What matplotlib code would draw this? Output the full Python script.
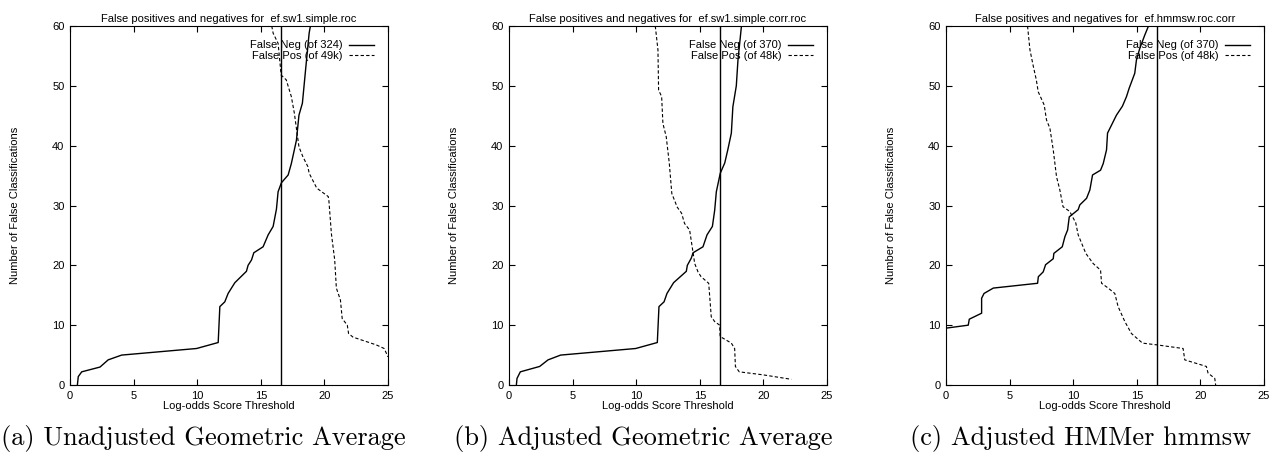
import matplotlib
matplotlib.use("Agg")
import matplotlib.pyplot as plt

plt.rcParams['font.family'] = ['Liberation Sans', 'DejaVu Sans']

threshold = 16.6

# panel (a) ef.sw1.simple.roc
a_fn_x = [0.58, 0.65, 0.92, 2.36, 3.0, 4.06, 9.95, 11.65, 11.78, 12.17, 12.43, 12.96, 13.87, 14.0,
          14.27, 14.45, 15.18, 15.58, 15.97, 16.23, 16.36, 16.62, 17.15, 17.4, 17.8, 18.0, 18.27,
          18.53, 18.8, 18.9]
a_fn_y = [0, 1.4, 2.2, 3.0, 4.2, 5.0, 6.1, 7.1, 13.1, 13.9, 15.3, 17.1, 19.0, 20.0,
          20.9, 22.1, 23.1, 25.1, 26.5, 29.4, 32.3, 33.8, 35.1, 37.0, 40.9, 45.1, 47.1,
          52.9, 58.8, 60.0]
a_fp_x = [15.86, 15.97, 16.36, 16.6, 17.0, 17.4, 17.64, 17.85, 18.0, 18.3, 18.7, 18.8, 19.4,
          20.3, 20.35, 20.55, 20.81, 20.94, 21.26, 21.4, 21.8, 21.9, 22.25, 24.08, 24.7, 25.0]
a_fp_y = [60.0, 58.8, 57.1, 51.8, 51.0, 48.2, 45.4, 42.1, 39.8, 38.2, 36.5, 35.4, 32.9,
          31.5, 30.9, 25.3, 20.9, 16.2, 14.2, 11.1, 10.0, 8.6, 8.0, 6.7, 6.1, 4.7]

# panel (b) ef.sw1.simple.corr.roc
b_fn_x = [0.58, 0.63, 0.89, 2.41, 3.07, 4.06, 9.96, 11.66, 11.79, 12.19, 12.42, 12.94, 13.94,
          14.02, 14.33, 14.47, 15.25, 15.57, 15.99, 16.17, 16.3, 16.61, 16.96, 17.2, 17.48, 17.6,
          17.87, 18.0, 18.27]
b_fn_y = [0, 1.1, 2.2, 3.1, 4.2, 5.0, 6.1, 7.1, 13.1, 13.9, 15.3, 17.1, 19.0,
          20.0, 21.2, 22.1, 23.1, 25.1, 26.5, 29.2, 32.3, 35.4, 37.1, 39.3, 42.1, 46.5,
          50.0, 54.3, 59.9]
b_fp_x = [11.5, 11.71, 11.76, 12.0, 12.1, 12.36, 12.6, 12.8, 13.1, 13.2, 13.57, 13.8, 14.2,
          14.4, 14.6, 14.86, 15.1, 15.7, 15.9, 16.17, 16.56, 16.6, 17.48, 17.74, 17.8, 18.1,
          19.97, 22.2]
b_fp_y = [60.0, 56.0, 49.3, 48.2, 43.7, 41.5, 37.1, 32.0, 30.4, 29.8, 28.7, 27.0, 25.9,
          23.1, 20.3, 18.9, 18.1, 17.0, 11.4, 10.6, 10.0, 8.1, 7.0, 6.1, 3.1, 2.2,
          1.7, 0.95]

# panel (c) ef.hmmsw.roc.corr
c_fn_x = [0, 1.75, 1.83, 2.8, 2.8, 2.99, 3.72, 7.2, 7.26, 7.64, 7.83, 8.43, 8.48, 9.14, 9.35,
          9.56, 9.69, 10.39, 10.52, 11.05, 11.31, 11.52, 12.15, 12.36, 12.62, 12.7, 13.4, 13.87,
          14.19, 14.4, 14.84, 14.97, 15.24, 15.63, 15.9]
c_fn_y = [9.5, 10.0, 11.0, 12.0, 14.5, 15.3, 16.2, 17.0, 18.1, 18.9, 20.1, 21.1, 22.0, 23.1, 24.8,
          25.9, 28.1, 29.3, 30.1, 31.2, 32.6, 35.1, 35.9, 37.0, 39.3, 42.1, 45.1, 46.6,
          48.2, 49.6, 52.1, 54.3, 56.3, 58.5, 59.9]
c_fp_x = [6.41, 6.6, 6.86, 7.1, 7.25, 7.72, 7.9, 8.17, 8.43, 8.69, 8.95, 9.2, 9.73, 10.2, 10.39,
          10.99, 11.57, 12.15, 12.23, 12.75, 13.27, 13.53, 14.06, 14.58, 15.45, 16.6, 18.64,
          18.77, 20.47, 20.6, 21.13, 21.2]
c_fp_y = [60.0, 56.0, 53.3, 51.0, 49.0, 46.8, 44.3, 42.9, 39.3, 34.8, 32.6, 29.8, 29.0, 27.1, 25.1,
          22.0, 20.3, 19.2, 17.0, 16.2, 15.3, 13.1, 10.6, 8.6, 7.0, 6.7, 6.1,
          4.2, 3.1, 2.0, 1.1, 0]

titles = ["False positives and negatives for  ef.sw1.simple.roc",
          "False positives and negatives for  ef.sw1.simple.corr.roc",
          "False positives and negatives for  ef.hmmsw.roc.corr"]
fn_labels = ["False Neg (of 324)", "False Neg (of 370)", "False Neg (of 370)"]
fp_labels = ["False Pos (of 49k)", "False Pos (of 48k)", "False Pos (of 48k)"]
captions = ["(a) Unadjusted Geometric Average", "(b) Adjusted Geometric Average",
            "(c) Adjusted HMMer hmmsw"]

panels = [(a_fn_x, a_fn_y, a_fp_x, a_fp_y),
          (b_fn_x, b_fn_y, b_fp_x, b_fp_y),
          (c_fn_x, c_fn_y, c_fp_x, c_fp_y)]

fig = plt.figure(figsize=(12.83, 4.53), dpi=100)

lefts = [70 / 1283, 509 / 1283, 946 / 1283]
cap_x = [203 / 1283, 643 / 1283, 1081 / 1283]
w = 318 / 1283
bottom = 1 - 385 / 453
h = 359 / 453

for i in range(3):
    fnx, fny, fpx, fpy = panels[i]
    ax = fig.add_axes([lefts[i], bottom, w, h])
    ax.plot(fnx, fny, color='black', lw=1.0, label=fn_labels[i])
    ax.plot(fpx, fpy, color='black', lw=0.8, linestyle=(0, (3, 2)), label=fp_labels[i])
    ax.axvline(threshold, color='black', lw=1.0)
    ax.set_xlim(0, 25)
    ax.set_ylim(0, 60)
    ax.set_xticks([0, 5, 10, 15, 20, 25])
    ax.set_yticks([0, 10, 20, 30, 40, 50, 60])
    ax.tick_params(direction='in', length=4, width=0.8, top=True, right=True,
                   labelsize=8, pad=4)
    for s in ax.spines.values():
        s.set_linewidth(0.8)
    ax.set_title(titles[i], fontsize=8, pad=3)
    ax.set_xlabel("Log-odds Score Threshold", fontsize=8, labelpad=0)
    ax.set_ylabel("Number of False Classifications", fontsize=8, labelpad=23)
    leg = ax.legend(loc='upper right', frameon=False, markerfirst=False, fontsize=8,
                    handlelength=2.2, handletextpad=0.6, labelspacing=0.05,
                    borderaxespad=0.9)
    fig.text(cap_x[i], 0.018, captions[i], family='cmr10', fontsize=19,
             ha='center', va='baseline')

fig.savefig("out.png", dpi=100)
